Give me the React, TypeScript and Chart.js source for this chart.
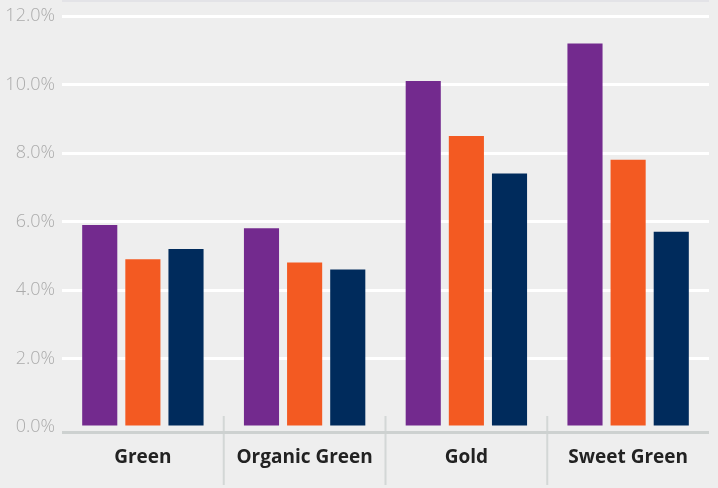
import React, { useEffect, useRef } from "react";
import { Chart, registerables } from "chart.js";

Chart.register(...registerables);

const categories = ["Green", "Organic Green", "Gold", "Sweet Green"];
const seriesA = [5.9, 5.8, 10.1, 11.2];
const seriesB = [4.9, 4.8, 8.5, 7.8];
const seriesC = [5.2, 4.6, 7.4, 5.7];
const yTicks = [0, 2, 4, 6, 8, 10, 12];

const decorPlugin = {
  id: "decor",
  beforeDatasetsDraw(chart: any) {
    const { ctx, chartArea, scales } = chart;
    const x = scales.x;
    const y = scales.y;
    const zero = y.getPixelForValue(0);
    ctx.save();
    // faint top line
    ctx.strokeStyle = "#e3e3e7";
    ctx.lineWidth = 3;
    ctx.beginPath();
    ctx.moveTo(chartArea.left, 0.5);
    ctx.lineTo(chartArea.right, 0.5);
    ctx.stroke();
    // category separators
    ctx.strokeStyle = "#d3d7d6";
    ctx.lineWidth = 2;
    const n = categories.length;
    for (let i = 1; i < n; i++) {
      const px = (x.getPixelForValue(i - 1) + x.getPixelForValue(i)) / 2;
      ctx.beginPath();
      ctx.moveTo(px, zero - 11);
      ctx.lineTo(px, chart.height - 3);
      ctx.stroke();
    }
    // axis line
    ctx.strokeStyle = "#cdd1d0";
    ctx.lineWidth = 3;
    ctx.beginPath();
    ctx.moveTo(chartArea.left, zero + 5.5);
    ctx.lineTo(chartArea.right, zero + 5.5);
    ctx.stroke();
    ctx.restore();
  },
};

export default function App() {
  const ref = useRef<HTMLCanvasElement>(null);
  useEffect(() => {
    document.body.style.margin = "0";
    document.body.style.background = "#eeeeee";
    const canvas = ref.current!;
    const chart = new Chart(canvas, {
      type: "bar",
      data: {
        labels: categories,
        datasets: [
          { data: seriesA, backgroundColor: "#732a8e" },
          { data: seriesB, backgroundColor: "#f35a22" },
          { data: seriesC, backgroundColor: "#002b5c" },
        ],
      },
      options: {
        animation: false,
        responsive: false,
        devicePixelRatio: 1,
        layout: { padding: { top: 16, right: 9, left: 0, bottom: 0 } },
        datasets: {
          bar: { categoryPercentage: 0.8, barPercentage: 0.814 },
        },
        plugins: { legend: { display: false }, tooltip: { enabled: false } },
        scales: {
          x: {
            grid: { display: false, drawTicks: false },
            border: { display: false },
            ticks: {
              padding: 19,
              color: "#222222",
              font: { family: "Open Sans", size: 19, weight: "bold" },
            },
            afterFit(scale: any) {
              scale.height = 61;
            },
          },
          y: {
            min: 0,
            max: 12,
            afterBuildTicks(scale: any) {
              scale.ticks = yTicks.map((v) => ({ value: v }));
            },
            grid: {
              color: (c: any) => (c.tick && c.tick.value === 0 ? "rgba(0,0,0,0)" : "#ffffff"),
              lineWidth: 3,
              drawTicks: false,
            },
            border: { display: false },
            ticks: {
              padding: 7,
              color: "#ababab",
              font: { family: "Open Sans", size: 18, weight: 300, lineHeight: 1 },
              callback: (v: any) => Number(v).toFixed(1) + "%",
            },
            afterFit(scale: any) {
              scale.width = 62;
            },
          },
        },
      },
      plugins: [decorPlugin],
    });
    return () => chart.destroy();
  }, []);
  return (
    <div style={{ width: 718, height: 488, background: "#eeeeee" }}>
      <canvas ref={ref} width={718} height={488} style={{ display: "block" }} />
    </div>
  );
}
